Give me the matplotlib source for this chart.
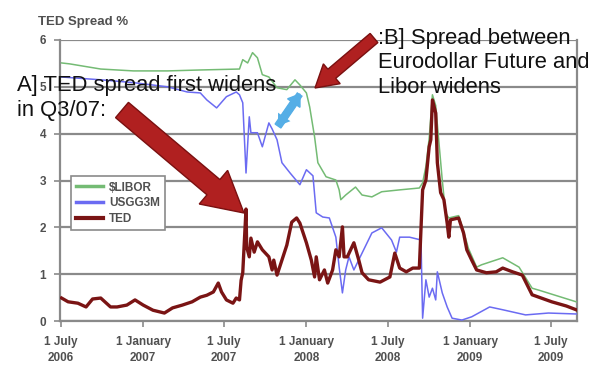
import datetime as dt
import numpy as np
import matplotlib
matplotlib.use("Agg")
import matplotlib.pyplot as plt
from matplotlib.patches import FancyArrow
from matplotlib.transforms import IdentityTransform

# ---------------- data (fractional years, percent) ----------------
ted_t = [2006.50, 2006.54, 2006.60, 2006.65, 2006.69, 2006.74, 2006.80, 2006.84, 2006.90, 2006.95,
         2007.00, 2007.06, 2007.13, 2007.18, 2007.24, 2007.30, 2007.35, 2007.39, 2007.43, 2007.46,
         2007.48, 2007.51, 2007.55, 2007.57, 2007.59, 2007.60, 2007.61, 2007.63, 2007.634, 2007.65,
         2007.66, 2007.68, 2007.70, 2007.73, 2007.77, 2007.79, 2007.80, 2007.82, 2007.85, 2007.88,
         2007.91, 2007.94, 2007.96, 2008.00, 2008.03, 2008.05, 2008.06, 2008.08, 2008.11, 2008.13,
         2008.16, 2008.18, 2008.20, 2008.22, 2008.23, 2008.25, 2008.29, 2008.32, 2008.34, 2008.38,
         2008.45, 2008.51, 2008.54, 2008.57, 2008.61, 2008.65, 2008.69, 2008.71, 2008.73, 2008.75,
         2008.76, 2008.77, 2008.79, 2008.80, 2008.82, 2008.84, 2008.86, 2008.87, 2008.88, 2008.93,
         2008.96, 2008.98, 2009.01, 2009.04, 2009.10, 2009.16, 2009.20, 2009.26, 2009.32, 2009.38,
         2009.42, 2009.50, 2009.59, 2009.65]
ted_v = [0.49, 0.41, 0.38, 0.30, 0.47, 0.49, 0.30, 0.30, 0.34, 0.45,
         0.34, 0.23, 0.17, 0.28, 0.34, 0.41, 0.51, 0.55, 0.62, 0.81,
         0.62, 0.45, 0.38, 0.49, 0.45, 0.87, 1.03, 2.39, 1.58, 1.37,
         1.77, 1.47, 1.69, 1.52, 1.37, 1.09, 1.30, 0.98, 1.30, 1.62,
         2.11, 2.20, 2.09, 1.67, 1.30, 0.94, 1.37, 0.88, 1.09, 0.81,
         1.09, 1.52, 1.37, 2.01, 1.37, 1.37, 1.67, 1.30, 1.03, 0.88,
         0.83, 0.94, 1.45, 1.13, 1.05, 1.13, 1.13, 2.80, 3.01, 3.72,
         3.87, 4.72, 4.44, 3.38, 2.74, 2.59, 2.09, 1.79, 2.16, 2.20,
         1.88, 1.52, 1.30, 1.09, 1.03, 1.05, 1.13, 1.05, 0.98, 0.56,
         0.51, 0.41, 0.32, 0.24]

libor_t = [2006.50, 2006.55, 2006.74, 2006.94, 2007.15, 2007.35, 2007.59, 2007.61, 2007.64, 2007.67,
           2007.70, 2007.73, 2007.77, 2007.82, 2007.88, 2007.93, 2007.96, 2008.00, 2008.02, 2008.05,
           2008.07, 2008.12, 2008.18, 2008.20, 2008.21, 2008.24, 2008.30, 2008.34, 2008.40, 2008.46,
           2008.57, 2008.69, 2008.71, 2008.73, 2008.75, 2008.77, 2008.79, 2008.81, 2008.83, 2008.85,
           2008.87, 2008.93, 2008.96, 2008.99, 2009.04, 2009.07, 2009.20, 2009.30, 2009.38, 2009.42,
           2009.65]
libor_v = [5.51, 5.49, 5.38, 5.34, 5.34, 5.36, 5.38, 5.58, 5.51, 5.73,
           5.62, 5.26, 5.21, 4.98, 4.94, 5.15, 5.04, 4.87, 4.57, 3.93,
           3.38, 3.08, 3.01, 2.80, 2.59, 2.69, 2.86, 2.69, 2.65, 2.76,
           2.80, 2.84, 2.95, 3.30, 3.90, 4.83, 4.60, 3.80, 3.01, 2.31,
           2.20, 2.25, 1.92, 1.55, 1.15, 1.20, 1.35, 1.15, 0.70, 0.66,
           0.41]

usgg_t = [2006.50, 2006.74, 2006.94, 2007.15, 2007.27, 2007.35, 2007.39, 2007.45, 2007.51, 2007.57,
          2007.59, 2007.61, 2007.63, 2007.65, 2007.66, 2007.70, 2007.73, 2007.77, 2007.79, 2007.82,
          2007.85, 2007.90, 2007.96, 2008.00, 2008.04, 2008.06, 2008.10, 2008.14, 2008.18, 2008.20,
          2008.22, 2008.24, 2008.26, 2008.29, 2008.34, 2008.40, 2008.46, 2008.52, 2008.55, 2008.57,
          2008.63, 2008.70, 2008.71, 2008.73, 2008.75, 2008.77, 2008.79, 2008.80, 2008.83, 2008.86,
          2008.89, 2008.95, 2009.01, 2009.12, 2009.20, 2009.34, 2009.48, 2009.65]
usgg_v = [5.21, 5.15, 5.09, 5.00, 4.89, 4.87, 4.72, 4.55, 4.79, 4.89,
          4.83, 4.66, 3.16, 4.36, 4.02, 4.02, 3.72, 4.23, 4.10, 3.87,
          3.38, 3.16, 2.91, 3.23, 3.10, 2.31, 2.22, 2.20, 1.79, 1.15,
          0.60, 1.09, 1.37, 1.09, 1.45, 1.88, 1.99, 1.73, 1.47, 1.79,
          1.79, 1.73, 0.06, 0.88, 0.51, 0.70, 0.45, 1.05, 0.60, 0.30,
          0.06, 0.02, 0.09, 0.30, 0.24, 0.13, 0.17, 0.15]

x_ticks = ["2006-07-01", "2007-01-01", "2007-07-01", "2008-01-01", "2008-07-01", "2009-01-01", "2009-07-01"]
x_tick_labels = ["1 July\n2006", "1 January\n2007", "1 July\n2007", "1 January\n2008",
                 "1 July\n2008", "1 January\n2009", "1 July\n2009"]
y_ticks = [0, 1, 2, 3, 4, 5, 6]


def to_dates(ts):
    out = []
    for t in ts:
        y = int(np.floor(t))
        start = dt.datetime(y, 1, 1)
        days = (dt.datetime(y + 1, 1, 1) - start).days
        out.append(start + dt.timedelta(days=(t - y) * days))
    return out


plt.rcParams['font.family'] = ['Liberation Sans', 'DejaVu Sans']

fig = plt.figure(figsize=(5.98, 3.82), dpi=100)
ax = fig.add_axes([60 / 598, 1 - 321 / 382, 517 / 598, 281 / 382])

gray = '#8a8a8a'
txtc = '#505050'

ax.plot(to_dates(libor_t), libor_v, color='#74bb74', lw=1.1, label='$LIBOR', zorder=3)
ax.plot(to_dates(usgg_t), usgg_v, color='#6b6bf2', lw=1.1, label='USGG3M', zorder=3)
ax.plot(to_dates(ted_t), ted_v, color='#7a1414', lw=2.4, label='TED', zorder=4)

ax.set_ylim(0, 6)
ax.set_xlim(dt.datetime(2006, 6, 29), to_dates([2009.655])[0])
ax.set_yticks(y_ticks)
ax.set_yticklabels([str(v) for v in y_ticks], fontsize=8.5, fontweight='bold', color=txtc)
ax.set_xticks([dt.datetime.strptime(s, "%Y-%m-%d") for s in x_ticks])
ax.set_xticklabels(x_tick_labels, fontsize=8.5, fontweight='bold', color=txtc, linespacing=1.45)
ax.yaxis.grid(True, color=gray, lw=1.6, zorder=1)
ax.set_axisbelow(True)
ax.tick_params(axis='both', colors=gray, length=4, width=1.2, labelcolor=txtc)
ax.tick_params(axis='y', pad=6)
ax.tick_params(axis='x', pad=7)
for s in ['left', 'bottom', 'right']:
    ax.spines[s].set_color(gray)
    ax.spines[s].set_linewidth(1.6)
ax.spines['top'].set_visible(False)

leg = ax.legend(loc='upper left', bbox_to_anchor=(0.021, 0.515), fancybox=False, framealpha=1,
                edgecolor=gray, prop={'size': 8.5, 'weight': 'bold'}, handlelength=2.3,
                borderpad=0.45, labelspacing=0.3, handletextpad=0.5, borderaxespad=0)
leg.get_frame().set_linewidth(1.2)
for t in leg.get_texts():
    t.set_color(txtc)
for h, lw in zip(leg.get_lines(), [2.5, 2.5, 3.0]):
    h.set_linewidth(lw)

fig.text(38 / 598, 1 - 22 / 382, 'TED Spread %', fontsize=9.5, fontweight='bold', color=txtc,
         va='center', ha='left')

# annotation arrows (display pixel space; image y flipped)
H = 382
idt = IdentityTransform()
def add_arrow(x0, y0, x1, y1, w, hw, hl, fc, ec, both=False):
    a = FancyArrow(x0, H - y0, x1 - x0, -(y1 - y0), width=w, head_width=hw, head_length=hl,
                   length_includes_head=True, transform=idt, facecolor=fc, edgecolor=ec,
                   lw=1, zorder=10)
    fig.patches.append(a)
    if both:
        b = FancyArrow(x1, H - y1, x0 - x1, -(y0 - y1), width=w, head_width=hw, head_length=hl,
                       length_includes_head=True, transform=idt, facecolor=fc, edgecolor=ec,
                       lw=0, zorder=10)
        fig.patches.append(b)

add_arrow(122, 110, 244, 213, 20, 44, 40, '#b02020', '#7a1010')
add_arrow(374, 38, 315, 88, 12, 26, 22, '#b02020', '#7a1010')
add_arrow(278, 126, 300, 94, 7, 15, 11, '#55aee6', '#55aee6', both=True)

fig.text(17 / 598, 1 - 98 / 382, 'A] TED spread first widens\nin Q3/07:', fontsize=15.8,
         color='#111111', va='center', ha='left', linespacing=1.2, zorder=11)
fig.text(378 / 598, 1 - 63 / 382, ':B] Spread between\nEurodollar Future and\nLibor widens',
         fontsize=15.8, color='#111111', va='center', ha='left', linespacing=1.2, zorder=11)

fig.savefig('out.png', dpi=100)
